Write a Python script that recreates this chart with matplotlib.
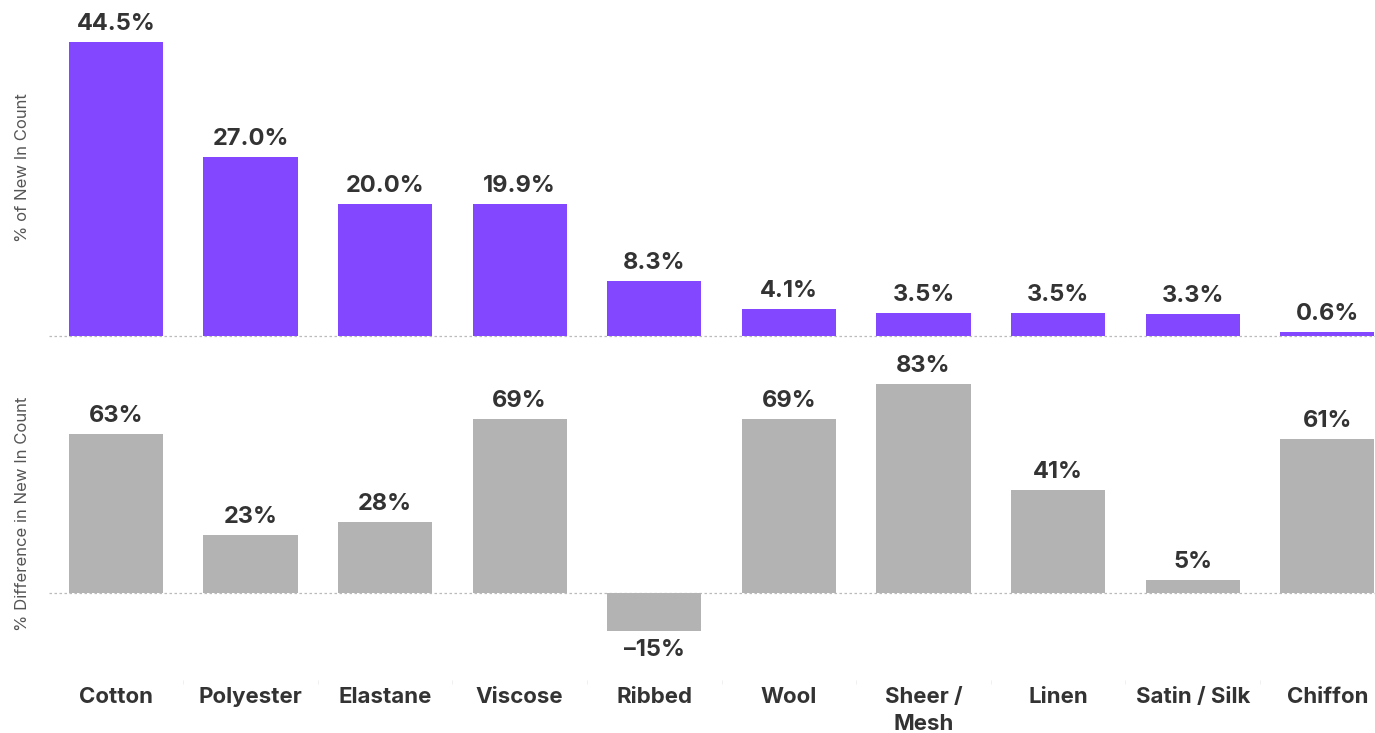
import numpy as np
import matplotlib.pyplot as plt

plt.rcParams['font.family'] = ['Inter', 'DejaVu Sans']

categories = ['Cotton', 'Polyester', 'Elastane', 'Viscose', 'Ribbed',
              'Wool', 'Sheer /\nMesh', 'Linen', 'Satin / Silk', 'Chiffon']
share = [44.5, 27.0, 20.0, 19.9, 8.3, 4.1, 3.5, 3.5, 3.3, 0.6]
diff = [63, 23, 28, 69, -15, 69, 83, 41, 5, 61]

purple = '#8247FF'
grey = '#B3B3B3'
txt = '#333333'

x = np.arange(len(categories))
fig = plt.figure(figsize=(13.75, 7.33), dpi=100)
ax1 = fig.add_axes([0.0353, 0.5416, 0.979, 0.4584])
ax2 = fig.add_axes([0.0353, 0.0723, 0.979, 0.453])

# top panel: share of new-in count
ax1.bar(x, share, width=0.7, color=purple, zorder=2)
for xi, v in zip(x, share):
    ax1.annotate(f'{v:.1f}%', (xi, v), xytext=(0, 5), textcoords='offset points',
                 ha='center', va='bottom', fontsize=17, fontweight='bold', color=txt)
ax1.set_ylim(0, 50.8)
ax1.set_xlim(-0.5, len(categories) - 0.5)
ax1.axhline(0, color='#BBBBBB', lw=0.9, ls=(0, (2, 2)), zorder=1, clip_on=False)
ax1.set_xticks([])
ax1.set_yticks([])
ax1.set_ylabel('% of New In Count', fontsize=12, color='#555555', labelpad=13)

# bottom panel: % difference
ax2.bar(x, diff, width=0.7, color=grey, zorder=2)
for xi, v in zip(x, diff):
    if v >= 0:
        ax2.annotate(f'{v}%', (xi, v), xytext=(0, 5), textcoords='offset points',
                     ha='center', va='bottom', fontsize=17, fontweight='bold', color=txt)
    else:
        ax2.annotate(f'\u2013{abs(v)}%', (xi, v), xytext=(0, -6), textcoords='offset points',
                     ha='center', va='top', fontsize=17, fontweight='bold', color=txt)
ax2.set_ylim(-34.5, 97.2)
ax2.set_xlim(-0.5, len(categories) - 0.5)
ax2.axhline(0, color='#BBBBBB', lw=0.9, ls=(0, (2, 2)), zorder=1)
ax2.set_yticks([])
ax2.set_xticks(x)
ax2.set_xticklabels(categories, fontsize=16, fontweight='bold', color=txt,
                    va='top', linespacing=1.45)
ax2.tick_params(axis='x', length=0, pad=5)
ax2.set_xticks(x[:-1] + 0.5, minor=True)
ax2.tick_params(axis='x', which='minor', length=3, color='#EEEEEE')
ax2.set_ylabel('% Difference in New In Count', fontsize=12, color='#555555', labelpad=13)

for ax in (ax1, ax2):
    for s in ax.spines.values():
        s.set_visible(False)

fig.savefig('out.png', dpi=100)
